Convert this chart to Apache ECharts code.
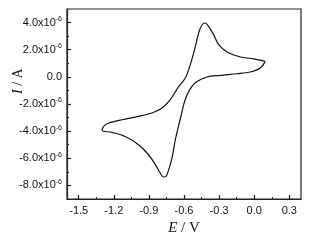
<!DOCTYPE html>
<html><head><meta charset="utf-8">
<script src="https://cdn.jsdelivr.net/npm/echarts@6/dist/echarts.min.js"></script>
<style>html,body{margin:0;padding:0;background:#fff}#c{width:309px;height:244px}</style>
</head><body><div id="c"></div>
<script>
// Potential (V) and current (units of 1e-6 A), in scan order
const potential = [0.095, 0.052, -0.033, -0.147, -0.29, -0.403, -0.489, -0.532, -0.574, -0.603, -0.623, -0.674, -0.697, -0.726, -0.754, -0.774, -0.803, -0.845, -0.903, -0.988, -1.102, -1.215, -1.30,
  -1.287, -1.244, -1.13, -0.988, -0.874, -0.788, -0.717, -0.674, -0.646, -0.589, -0.546, -0.503, -0.475, -0.446, -0.418, -0.39, -0.347, -0.304, -0.232, -0.119, -0.005, 0.095];
const current = [1.14, 0.65, 0.36, 0.23, 0.11, -0.01, -0.34, -0.70, -1.32, -2.05, -2.79, -4.63, -5.74, -6.72, -7.34, -7.38, -7.09, -6.47, -5.74, -5.0, -4.39, -4.09, -3.95,
  -3.65, -3.40, -3.16, -2.91, -2.66, -2.30, -1.68, -1.10, -0.72, -0.08, 0.90, 2.24, 3.23, 3.84, 3.97, 3.72, 3.11, 2.37, 1.83, 1.46, 1.32, 1.14];
const xTicks = [-1.5, -1.2, -0.9, -0.6, -0.3, 0.0, 0.3];
const xMinorTicks = [-1.35, -1.05, -0.75, -0.45, -0.15, 0.15];
const yTicks = [-8, -6, -4, -2, 0, 2, 4];
const yMinorTicks = [-7, -5, -3, -1, 1, 3];

const chart = echarts.init(document.getElementById('c'));
const axisCol = '#222';
const lblFont = 'Liberation Sans, Arial, sans-serif';
const serif = 'Liberation Serif, Times New Roman, serif';
function baseX(extra) {
  return Object.assign({
    type: 'value', min: -1.6, max: 0.4, position: 'bottom',
    splitLine: {show: false}
  }, extra);
}
function baseY(extra) {
  return Object.assign({
    type: 'value', min: -9, max: 5, position: 'left',
    splitLine: {show: false}
  }, extra);
}
chart.setOption({
  animation: false,
  grid: {left: 67, top: 9, right: 8, bottom: 45, show: true, borderColor: axisCol, borderWidth: 1.2, containLabel: false},
  xAxis: [
    baseX({
      name: '{i|E} / V', nameLocation: 'middle', nameGap: 22,
      nameTextStyle: {fontFamily: serif, fontSize: 15, color: '#111',
        rich: {i: {fontFamily: serif, fontSize: 15, fontStyle: 'italic', color: '#111'}}},
      axisLine: {onZero: false, lineStyle: {color: axisCol, width: 1.2}},
      axisTick: {inside: true, length: 4, customValues: xTicks, lineStyle: {color: axisCol, width: 1.2}},
      axisLabel: {customValues: xTicks, margin: 6, fontSize: 11, fontFamily: lblFont, color: '#111',
        formatter: v => v.toFixed(1)}
    }),
    baseX({
      axisLine: {show: false, onZero: false},
      axisTick: {inside: true, length: 2, customValues: xMinorTicks, lineStyle: {color: axisCol, width: 1}},
      axisLabel: {show: false}
    })
  ],
  yAxis: [
    baseY({
      axisLine: {onZero: false, lineStyle: {color: axisCol, width: 1.2}},
      axisTick: {inside: true, length: 4, customValues: yTicks, lineStyle: {color: axisCol, width: 1.2}},
      axisLabel: {customValues: yTicks, margin: 5, fontSize: 11, fontFamily: lblFont, color: '#111',
        formatter: v => v === 0 ? '{b|0.0}' : '{b|' + v.toFixed(1) + 'x10}{s|-6}',
        rich: {b: {fontSize: 11, fontFamily: lblFont, color: '#111'},
               s: {fontSize: 7, fontFamily: lblFont, color: '#111', padding: [0, 0, 7, 0]}}}
    }),
    baseY({
      axisLine: {show: false, onZero: false},
      axisTick: {inside: true, length: 2, customValues: yMinorTicks, lineStyle: {color: axisCol, width: 1}},
      axisLabel: {show: false}
    })
  ],
  graphic: [{
    type: 'text', x: 11, y: 94, rotation: Math.PI / 2,
    style: {text: '{i|I} / A', fill: '#111', font: '14px "Liberation Serif", serif',
      rich: {i: {fontStyle: 'italic', fontFamily: serif, fontSize: 14, fill: '#111'}}}
  }],
  series: [{
    type: 'line', xAxisIndex: 0, yAxisIndex: 0,
    data: potential.map((e, i) => [e, current[i]]),
    showSymbol: false, smooth: 0.3,
    lineStyle: {color: '#111', width: 1.2}
  }]
});
</script></body></html>
